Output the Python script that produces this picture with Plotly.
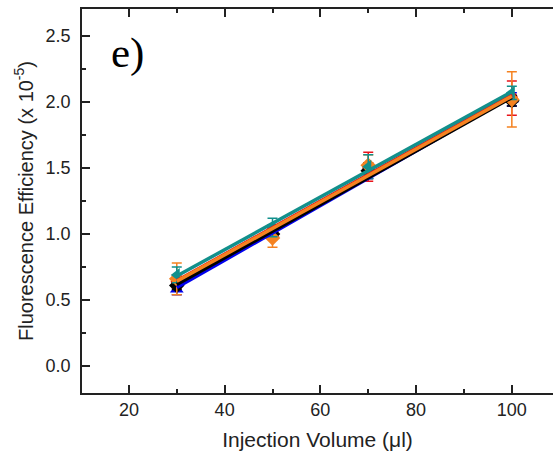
import numpy as np
import plotly.graph_objects as go

x_vol = [30, 50, 70, 100]

blue_y = [0.58, 1.00, 1.47, 2.02]
blue_err = [0.04, 0.04, 0.05, 0.05]
red_y = [0.64, 1.02, 1.51, 2.03]
red_err = [0.05, 0.05, 0.11, 0.13]
orange_y = [0.66, 0.97, 1.52, 2.02]
orange_err = [0.12, 0.07, 0.08, 0.21]
teal_y = [0.69, 1.05, 1.51, 2.07]
teal_err = [0.06, 0.07, 0.09, 0.05]
black_y = [0.61, 1.00, 1.48, 2.01]
black_err = [0.03, 0.03, 0.06, 0.04]

series = [
    ("blue", blue_y, blue_err, "#0000ee", "triangle-up"),
    ("red", red_y, red_err, "#e8141b", "circle"),
    ("black", black_y, black_err, "#000000", "diamond"),
    ("orange", orange_y, orange_err, "#f58220", "diamond"),
    ("teal", teal_y, teal_err, "#12908c", "triangle-left"),
]

fig = go.Figure()
for name, ys, es, col, sym in series:
    fig.add_trace(go.Scatter(
        x=x_vol, y=ys, mode="markers", name=name,
        marker=dict(color=col, symbol=sym, size=12),
        error_y=dict(type="data", array=es, color=col, thickness=1.5, width=5),
        showlegend=False))
for name, ys, es, col, sym in series:
    m, b = np.polyfit(x_vol, ys, 1)
    xs = [x_vol[0], x_vol[-1]]
    fig.add_trace(go.Scatter(
        x=xs, y=[m * v + b for v in xs], mode="lines",
        line=dict(color=col, width=3.5), showlegend=False))

fig.add_annotation(text="e)", xref="paper", yref="paper", x=0.057, y=0.885,
                   xanchor="left", yanchor="middle", showarrow=False,
                   font=dict(family="Liberation Serif", size=43, color="black"))

font = dict(family="Liberation Sans, Arial", color="#222")
fig.update_layout(
    width=553, height=456,
    margin=dict(l=82, r=0, t=9, b=63),
    plot_bgcolor="white", paper_bgcolor="white",
    font=font,
    xaxis=dict(range=[10.2, 108.6], tickvals=[20, 40, 60, 80, 100],
               automargin=False,
               ticks="inside", ticklen=8, tickwidth=1.5, tickcolor="#222",
               showline=True, linewidth=1.5, linecolor="#222", mirror="ticks",
               showgrid=False, zeroline=False,
               minor=dict(tickvals=[30, 50, 70, 90], ticks="inside", ticklen=4,
                          tickwidth=1.5, tickcolor="#222", showgrid=False),
               tickfont=dict(size=18),
               title=dict(text="Injection Volume (μl)", font=dict(size=21), standoff=13)),
    yaxis=dict(range=[-0.205, 2.705], tickvals=[0.0, 0.5, 1.0, 1.5, 2.0, 2.5],
               ticktext=["0.0", "0.5", "1.0", "1.5", "2.0", "2.5"],
               automargin=False, ticklabelstandoff=6,
               ticks="inside", ticklen=8, tickwidth=1.5, tickcolor="#222",
               showline=True, linewidth=1.5, linecolor="#222", mirror=False,
               showgrid=False, zeroline=False,
               minor=dict(tickvals=[0.25, 0.75, 1.25, 1.75, 2.25], ticks="inside",
                          ticklen=4, tickwidth=1.5, tickcolor="#222", showgrid=False),
               tickfont=dict(size=18),
               title=dict(text="Fluorescence Efficiency (x 10<sup>-5</sup>)",
                          font=dict(size=20), standoff=7)),
)
fig.write_html("out.html", config={"displayModeBar": False},
               post_script="document.body.style.margin='0';")
